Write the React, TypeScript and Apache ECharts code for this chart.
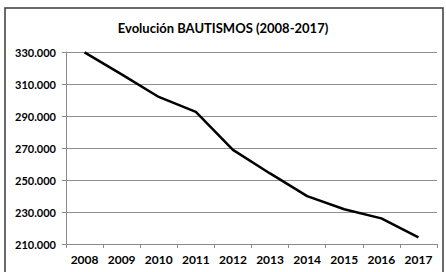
import React, { useEffect, useRef } from "react";
import * as echarts from "echarts";

const years = ["2008", "2009", "2010", "2011", "2012", "2013", "2014", "2015", "2016", "2017"];
const bautismos = [329800, 316000, 301900, 292600, 268800, 254100, 239900, 231700, 226000, 214200];
const titleText = "Evolución BAUTISMOS (2008-2017)";
const yMin = 210000;
const yMax = 330000;
const yStep = 20000;

function fmt(v: number): string {
  const s = Math.round(v).toString();
  return s.replace(/\B(?=(\d{3})+(?!\d))/g, ".");
}

export default function App() {
  const ref = useRef<HTMLDivElement>(null);
  useEffect(() => {
    if (!ref.current) return;
    const chart = echarts.init(ref.current, null, { renderer: "svg" });
    chart.setOption({
      animation: false,
      backgroundColor: "#ffffff",
      title: {
        text: titleText,
        left: "center",
        top: 16,
        textStyle: { fontFamily: "Lato", fontWeight: "bold", fontSize: 13, color: "#000" },
      },
      graphic: [
        {
          type: "rect",
          shape: { x: 5, y: 8, width: 438, height: 275 },
          style: { fill: "none", stroke: "#3a3a3a", lineWidth: 1.5 },
          silent: true,
        },
      ],
      grid: { left: 66, right: 9, top: 52, bottom: 28, containLabel: false },
      xAxis: {
        type: "category",
        data: years,
        boundaryGap: true,
        axisLine: { show: true, lineStyle: { color: "#8a8a8a", width: 1 } },
        axisTick: { show: true, alignWithLabel: false, length: 4, lineStyle: { color: "#8a8a8a" } },
        axisLabel: { fontFamily: "Lato", fontWeight: "bold", fontSize: 12, color: "#000", margin: 9 },
      },
      yAxis: {
        type: "value",
        min: yMin,
        max: yMax,
        interval: yStep,
        axisLine: { show: true, lineStyle: { color: "#8a8a8a", width: 1 } },
        axisTick: { show: true, inside: false, length: 4, lineStyle: { color: "#8a8a8a" } },
        splitLine: { show: true, lineStyle: { color: "#8f8f8f", width: 1 } },
        axisLabel: {
          fontFamily: "Lato",
          fontWeight: "bold",
          fontSize: 11,
          color: "#000",
          margin: 10,
          formatter: (v: number) => fmt(v),
        },
      },
      series: [
        {
          type: "line",
          data: bautismos,
          symbol: "none",
          lineStyle: { color: "#000", width: 2.5 },
        },
      ],
    });
    return () => chart.dispose();
  }, []);
  return (
    <div
      ref={ref}
      style={{ position: "fixed", left: 0, top: 0, width: 446, height: 272 }}
    />
  );
}
